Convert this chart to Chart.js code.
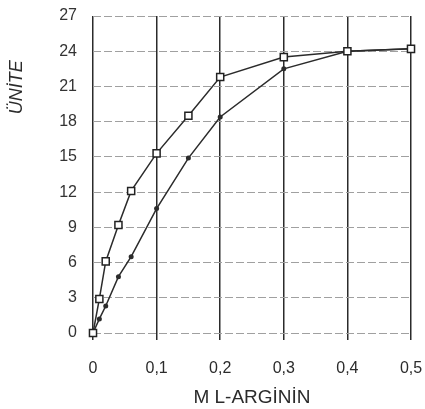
<!DOCTYPE html>
<html>
<head>
<meta charset="utf-8">
<script src="https://cdn.jsdelivr.net/npm/chart.js@4"></script>
<style>
  html, body { margin: 0; padding: 0; background: #fff; overflow: hidden; }
  #wrap { position: relative; width: 425px; height: 409px; }
</style>
</head>
<body>
<div id="wrap"><canvas id="c"></canvas></div>
<script>
// concentration (M L-arginine) and activity (units)
const xSquare = [0, 0.01, 0.02, 0.04, 0.06, 0.1, 0.15, 0.2, 0.3, 0.4, 0.5];
const ySquare = [0, 2.9, 6.1, 9.2, 12.1, 15.3, 18.5, 21.8, 23.5, 24.0, 24.2];
const xDot = [0, 0.01, 0.02, 0.04, 0.06, 0.1, 0.15, 0.2, 0.3, 0.4, 0.5];
const yDot = [0, 1.2, 2.3, 4.8, 6.5, 10.6, 14.9, 18.4, 22.5, 24.0, 24.2];
const xTicks = [0, 0.1, 0.2, 0.3, 0.4, 0.5];
const yTicks = [0, 3, 6, 9, 12, 15, 18, 21, 24, 27];
const xTitle = 'M L-ARGİNİN';
const yTitle = 'ÜNİTE';

const FONT = '"Liberation Sans", Arial, sans-serif';
const ink = '#2b2b2b';

const toPoints = (xs, ys) => xs.map((x, i) => ({ x, y: ys[i] }));

// rotated italic y title, sits high on the axis like the original
const yTitlePlugin = {
  id: 'yTitle',
  afterDraw(chart) {
    const { ctx, chartArea } = chart;
    ctx.save();
    ctx.translate(17, chartArea.top + chartArea.height * 0.225);
    ctx.rotate(-Math.PI / 2);
    ctx.font = 'italic 18px ' + FONT;
    ctx.fillStyle = ink;
    ctx.textAlign = 'center';
    ctx.textBaseline = 'middle';
    ctx.fillText(yTitle, 0, 0);
    ctx.restore();
  },
};

new Chart(document.getElementById('c').getContext('2d'), {
  type: 'scatter',
  plugins: [yTitlePlugin],
  data: {
    datasets: [
      {
        data: toPoints(xSquare, ySquare),
        showLine: true,
        clip: false,
        borderColor: ink,
        borderWidth: 1.5,
        pointStyle: 'rect',
        pointRadius: 5,
        pointBackgroundColor: '#fff',
        pointBorderColor: '#222',
        pointBorderWidth: 1.5,
      },
      {
        data: toPoints(xDot, yDot),
        showLine: true,
        clip: false,
        borderColor: ink,
        borderWidth: 1.5,
        pointStyle: 'circle',
        pointRadius: 2.5,
        pointBackgroundColor: ink,
        pointBorderColor: ink,
        pointBorderWidth: 0,
      },
    ],
  },
  options: {
    responsive: true,
    maintainAspectRatio: false,
    animation: false,
    layout: { padding: { top: 16, right: 14, bottom: 0, left: 0 } },
    scales: {
      x: {
        type: 'linear',
        min: 0,
        max: 0.5,
        afterBuildTicks: (s) => { s.ticks = xTicks.map(v => ({ value: v })); },
        afterFit: (s) => { s.height = 76; s.paddingLeft = 0; s.paddingRight = 0; },
        border: { display: false },
        grid: { color: ink, lineWidth: 1.5, tickLength: 7 },
        ticks: {
          padding: 19,
          color: ink,
          font: { family: FONT, size: 16 },
          callback: (v) => (v === 0 ? '0' : v.toFixed(1).replace('.', ',')),
        },
        title: {
          display: true,
          text: xTitle,
          color: ink,
          font: { family: FONT, size: 19 },
          padding: { top: 9, bottom: 0 },
        },
      },
      y: {
        min: 0,
        max: 27,
        afterBuildTicks: (s) => { s.ticks = yTicks.map(v => ({ value: v })); },
        afterFit: (s) => { s.width = 93; s.paddingTop = 0; s.paddingBottom = 0; },
        border: { display: false, dash: [8, 3] },
        grid: { color: '#a0a0a0', lineWidth: 1, drawTicks: false },
        ticks: {
          padding: 16,
          color: '#333',
          font: { family: FONT, size: 16 },
        },
      },
    },
    plugins: {
      legend: { display: false },
      tooltip: { enabled: false },
    },
  },
});
</script>
</body>
</html>
